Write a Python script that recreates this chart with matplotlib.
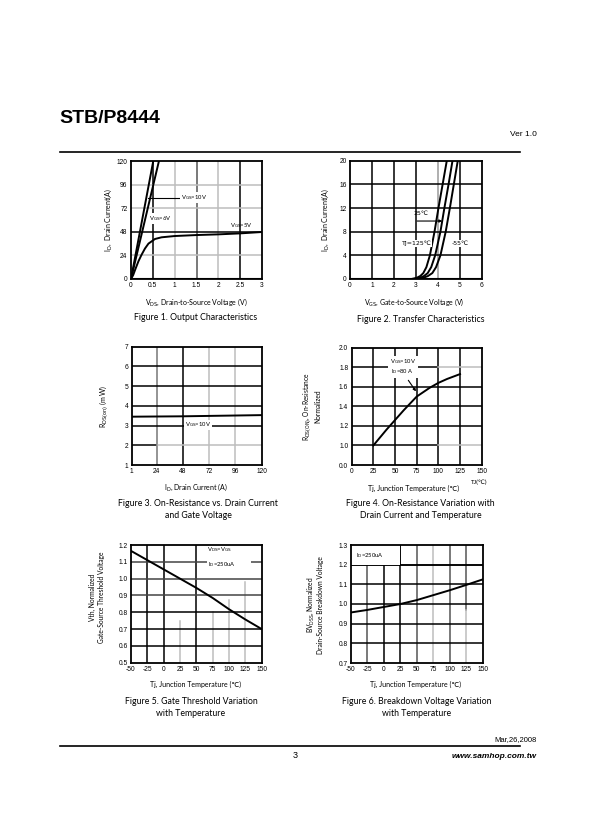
import numpy as np
import matplotlib
matplotlib.use("Agg")
from matplotlib import pyplot as plt
from matplotlib.patches import Rectangle

W, H = 592, 840

# ---- Figure 1: output characteristics ----
vds_10v = [0.0, 0.51]
id_10v = [0, 120]
vds_6v = [0.0, 0.64]
id_6v = [0, 120]
vds_5v = [0, 0.05, 0.1, 0.17, 0.24, 0.32, 0.4, 0.55, 0.7, 1.0, 1.5, 2.0, 2.5, 3.0]
id_5v = [0, 4, 10, 18, 24.5, 31, 36, 40.7, 42.4, 43.7, 44.7, 45.4, 46.4, 47.8]
f1_xticks = [0, 0.5, 1, 1.5, 2, 2.5, 3]
f1_xlabels = ["0", "0.5", "1", "1.5", "2", "2.5", "3"]
f1_yticks = [0, 24, 48, 72, 96, 120]

# ---- Figure 2: transfer characteristics ----
id_tr = [0, 0, 0.2, 0.5, 1, 2, 4, 8, 12, 16, 20]
vgs_125 = [0, 2.8, 3.04, 3.2, 3.34, 3.48, 3.64, 3.85, 4.03, 4.22, 4.41]
vgs_25 = [0, 2.95, 3.19, 3.37, 3.54, 3.7, 3.88, 4.12, 4.3, 4.49, 4.67]
vgs_m55 = [0, 3.1, 3.34, 3.55, 3.75, 3.92, 4.12, 4.36, 4.55, 4.73, 4.91]
f2_xticks = [0, 1, 2, 3, 4, 5, 6]
f2_yticks = [0, 4, 8, 12, 16, 20]

# ---- Figure 3: on-resistance vs drain current ----
id_rds = [1, 24, 48, 72, 96, 120]
rds_10v = [3.45, 3.46, 3.47, 3.49, 3.51, 3.53]
f3_xticks = [1, 24, 48, 72, 96, 120]
f3_yticks = [1, 2, 3, 4, 5, 6, 7]

# ---- Figure 4: on-resistance vs temperature ----
tj_rn = [25, 40, 50, 60, 75, 90, 100, 110, 125]
rds_norm = [1.0, 1.16, 1.26, 1.36, 1.50, 1.59, 1.64, 1.68, 1.73]
f4_xticks = [0, 25, 50, 75, 100, 125, 150]
f4_yticks = [0.8, 1.0, 1.2, 1.4, 1.6, 1.8, 2.0]
f4_ylabels = ["0.0", "1.0", "1.2", "1.4", "1.6", "1.8", "2.0"]

# ---- Figure 5: gate threshold vs temperature ----
tj_vth = [-50, 0, 25, 50, 75, 100, 125, 150]
vth_norm = [1.165, 1.055, 1.0, 0.945, 0.885, 0.818, 0.757, 0.70]
f5_xticks = [-50, -25, 0, 25, 50, 75, 100, 125, 150]
f5_yticks = [0.5, 0.6, 0.7, 0.8, 0.9, 1.0, 1.1, 1.2]

# ---- Figure 6: breakdown voltage vs temperature ----
tj_bv = [-50, -25, 0, 25, 50, 75, 100, 125, 150]
bv_norm = [0.957, 0.970, 0.985, 1.0, 1.02, 1.045, 1.07, 1.097, 1.125]
f6_yticks = [0.7, 0.8, 0.9, 1.0, 1.1, 1.2, 1.3]

LAB = ["Lato", "DejaVu Sans"]
TICK = ["Liberation Sans", "DejaVu Sans"]
GRAY = "#bdbdbd"
DARK = "#555555"

plt.rcParams["font.family"] = LAB
plt.rcParams["mathtext.fontset"] = "dejavusans"

fig = plt.figure(figsize=(W / 100, H / 100), dpi=100)


def px_axes(l, r, t, b):
    return fig.add_axes([l / W, 1 - b / H, (r - l) / W, (b - t) / H])


def ftext(x, y, s, **kw):
    fig.text(x / W, 1 - y / H, s, **kw)


def style(ax, xlim, ylim, xticks, yticks, xlabels=None, ylabels=None):
    ax.set_xlim(*xlim)
    ax.set_ylim(*ylim)
    ax.set_xticks(xticks)
    ax.set_yticks(yticks)
    ax.set_xticklabels(xlabels if xlabels else [str(t) for t in xticks], family=TICK)
    ax.set_yticklabels(ylabels if ylabels else [str(t) for t in yticks], family=TICK)
    ax.tick_params(length=0, labelsize=4.8, pad=2.5)
    for s in ax.spines.values():
        s.set_linewidth(1.3)


def vgrid(ax, x, color="k", lo=None, hi=None):
    y0, y1 = ax.get_ylim()
    ax.plot([x, x], [lo if lo is not None else y0, hi if hi is not None else y1],
            color=color, lw=1.1, zorder=1)


def hgrid(ax, y, color="k", lo=None, hi=None):
    x0, x1 = ax.get_xlim()
    ax.plot([lo if lo is not None else x0, hi if hi is not None else x1], [y, y],
            color=color, lw=1.1, zorder=1)


box = dict(facecolor="white", edgecolor="none", pad=0.6)

# ---------------- Figure 1 ----------------
ax1 = px_axes(131, 262, 161, 279)
style(ax1, (0, 3), (0, 120), f1_xticks, f1_yticks, xlabels=f1_xlabels)
for x, c in zip([0.5, 1, 1.5, 2, 2.5], ["k", GRAY, DARK, GRAY, "k"]):
    vgrid(ax1, x, c)
for y, c in zip([24, 48, 72, 96], [GRAY, "k", GRAY, GRAY]):
    hgrid(ax1, y, c)
ax1.plot(vds_10v, id_10v, color="k", lw=1.4, zorder=3)
ax1.plot(vds_6v, id_6v, color="k", lw=1.4, zorder=3)
ax1.plot(vds_5v, id_5v, color="k", lw=1.4, zorder=3)
ax1.plot([0, 3], [0.5, 0.5], color="k", lw=1.5, zorder=3)
ax1.plot([0.4, 1.12], [82.7, 82.7], color="k", lw=0.8, zorder=3)
ax1.text(1.15, 82.7, r"V$_{\rm GS}$=10V", fontsize=4.2, va="center", zorder=4, bbox=box)
ax1.text(0.42, 61.3, r"V$_{\rm GS}$=6V", fontsize=4.2, va="center", zorder=4, bbox=box)
ax1.text(2.27, 54.6, r"V$_{\rm GS}$=5V", fontsize=4.2, va="center", zorder=4)
ftext(196, 302, r"V$_{\rm DS}$, Drain-to-Source Voltage (V)", fontsize=5, ha="center", va="center")
ftext(108, 220, r"I$_{\rm D}$,  Drain Current(A)", fontsize=5, ha="center", va="center", rotation=90)
ftext(196, 318, "Figure 1. Output Characteristics", fontsize=6.3, ha="center", va="center")

# ---------------- Figure 2 ----------------
ax2 = px_axes(350, 481.7, 160.7, 279)
style(ax2, (0, 6), (0, 20), f2_xticks, f2_yticks)
for x, c in zip([1, 2, 3, 4, 5], ["k", "k", "k", "#9a9a9a", "k"]):
    vgrid(ax2, x, c)
for y in [4, 8, 12, 16]:
    hgrid(ax2, y)
for v in (vgs_125, vgs_25, vgs_m55):
    ax2.plot(v, id_tr, color="k", lw=1.4, zorder=3)
ax2.plot([0, 6], [0.08, 0.08], color="k", lw=1.5, zorder=3)
ax2.annotate("", xy=(4.33, 9.8), xytext=(2.93, 9.8),
             arrowprops=dict(arrowstyle="-|>", color="k", lw=0.8, mutation_scale=4), zorder=4)
ax2.text(2.9, 10.7, "25℃", fontsize=4.5, va="bottom", family=["DejaVu Sans"], zorder=4)
ax2.text(3.72, 6.0, "TJ=125℃", fontsize=4.5, ha="right", va="center",
         family=["DejaVu Sans"], zorder=4, bbox=box)
ax2.text(4.62, 6.0, "-55℃", fontsize=4.5, ha="left", va="center",
         family=["DejaVu Sans"], zorder=4, bbox=box)
ftext(414, 302, r"V$_{\rm GS}$, Gate-to-Source Voltage (V)", fontsize=5, ha="center", va="center")
ftext(325, 220, r"I$_{\rm D}$,  Drain Current(A)", fontsize=5, ha="center", va="center", rotation=90)
ftext(421, 319, "Figure 2. Transfer Characteristics", fontsize=6.3, ha="center", va="center")

# ---------------- Figure 3 ----------------
ax3 = px_axes(131.7, 261.7, 346.7, 465)
style(ax3, (1, 120), (1, 7), f3_xticks, f3_yticks)
for x, c in zip([24, 48, 72, 96], ["#777777", "k", GRAY, GRAY]):
    vgrid(ax3, x, c)
hgrid(ax3, 2, "k", 1, 24)
hgrid(ax3, 2, GRAY, 24, 120)
for y in [3, 4, 5, 6]:
    hgrid(ax3, y)
ax3.plot(id_rds, rds_10v, color="k", lw=1.4, zorder=3)
ax3.text(62, 3.03, r"V$_{\rm GS}$=10V", fontsize=4.2, ha="center", va="center", zorder=4, bbox=box)
ftext(196, 487, r"I$_{\rm D}$, Drain Current (A)", fontsize=5, ha="center", va="center")
ftext(104, 406, r"R$_{\rm DS(on)}$ (m W)", fontsize=5, ha="center", va="center", rotation=90)
ftext(198, 503, "Figure 3. On-Resistance vs. Drain Current", fontsize=6.3, ha="center", va="center")
ftext(198, 515, "and Gate Voltage", fontsize=6.3, ha="center", va="center")

# ---------------- Figure 4 ----------------
ax4 = px_axes(351.7, 481.7, 347.7, 465)
style(ax4, (0, 150), (0.8, 2.0), f4_xticks, f4_yticks, ylabels=f4_ylabels)
for x in [25, 50, 75, 100, 125]:
    vgrid(ax4, x)
for y in [1.2, 1.4, 1.6]:
    hgrid(ax4, y)
for y in [1.0, 1.8]:
    hgrid(ax4, y, "k", 0, 100)
    hgrid(ax4, y, GRAY, 100, 150)
ax4.plot(tj_rn, rds_norm, color="k", lw=1.4, zorder=3)
ax4.text(59, 1.805, "V$_{\\rm GS}$=10V\nI$_{\\rm D}$=80 A", fontsize=4.2, ha="center",
         va="center", linespacing=1.1, zorder=4, bbox=dict(facecolor="white", edgecolor="none", pad=1.2))
ax4.annotate("", xy=(76, 1.53), xytext=(63.5, 1.69),
             arrowprops=dict(arrowstyle="-|>", color="k", lw=0.8, mutation_scale=4), zorder=4)
ftext(414, 488, "Tj, Junction Temperature (℃)", fontsize=5, ha="center", va="center")
ftext(479, 482, "TJ(℃)", fontsize=4.5, ha="center", va="center")
ftext(311, 406, "R$_{\\rm DS(ON)}$, On-Resistance\nNormalized", fontsize=4.8, ha="center",
      va="center", rotation=90, multialignment="center")
ftext(420, 503, "Figure 4. On-Resistance Variation with", fontsize=6.3, ha="center", va="center")
ftext(421, 515, "Drain Current and Temperature", fontsize=6.3, ha="center", va="center")

# ---------------- Figure 5 ----------------
ax5 = px_axes(131, 261.7, 545, 662.7)
style(ax5, (-50, 150), (0.5, 1.2), f5_xticks, f5_yticks)
for x in [-25, 0, 50]:
    vgrid(ax5, x)
for x, top in zip([25, 75, 100, 125], [0.75, 0.80, 0.87, 0.98]):
    vgrid(ax5, x, GRAY, 0.5, top)
for y, c in zip([0.6, 0.7, 0.8, 0.9, 1.0, 1.1], ["k", "k", "k", "#444444", "#444444", "#444444"]):
    hgrid(ax5, y, c)
ax5.add_patch(Rectangle((67, 1.04), 67, 0.16, facecolor="white", edgecolor="none", zorder=2))
ax5.plot(tj_vth, vth_norm, color="k", lw=1.4, zorder=3)
ax5.text(85, 1.17, "V$_{\\rm DS}$=V$_{\\rm GS}$", fontsize=4.2, ha="center", va="center", zorder=4)
ax5.text(89, 1.085, "I$_{\\rm D}$=250uA", fontsize=4.2, ha="center", va="center", zorder=4)
ftext(196, 684, "Tj, Junction Temperature (℃)", fontsize=5, ha="center", va="center")
ftext(97, 597, "Vth, Normalized\nGate-Source Threshold Voltage", fontsize=4.8, ha="center",
      va="center", rotation=90, multialignment="center")
ftext(191, 701, "Figure 5. Gate Threshold Variation", fontsize=6.3, ha="center", va="center")
ftext(191, 713, "with Temperature", fontsize=6.3, ha="center", va="center")

# ---------------- Figure 6 ----------------
ax6 = px_axes(351, 482.7, 545, 663)
style(ax6, (-50, 150), (0.7, 1.3), f5_xticks, f6_yticks)
for x, c in zip([-25, 0, 25, 50, 75, 100], [DARK, "k", "k", DARK, GRAY, DARK]):
    vgrid(ax6, x, c)
vgrid(ax6, 125, DARK, 0.97, 1.3)
vgrid(ax6, 125, GRAY, 0.7, 0.97)
for y in [0.8, 0.9, 1.0, 1.1, 1.2]:
    hgrid(ax6, y)
ax6.add_patch(Rectangle((-50, 1.2), 75, 0.1, facecolor="white", edgecolor="none", zorder=2))
vgrid(ax6, 25, "k", 1.2, 1.3)
hgrid(ax6, 1.2)
ax6.plot(tj_bv, bv_norm, color="k", lw=1.4, zorder=3)
ax6.text(-22, 1.245, "I$_{\\rm D}$=250uA", fontsize=4.2, ha="center", va="center", zorder=4)
ftext(416, 684, "Tj, Junction Temperature (℃)", fontsize=5, ha="center", va="center")
ftext(315, 605, "BV$_{\\rm DSS}$, Normalized\nDrain-Source Breakdown Voltage", fontsize=4.8,
      ha="center", va="center", rotation=90, multialignment="center")
ftext(417, 701, "Figure 6. Breakdown Voltage Variation", fontsize=6.3, ha="center", va="center")
ftext(417, 713, "with Temperature", fontsize=6.3, ha="center", va="center")

# ---------------- page header / footer ----------------
ftext(59, 123, "STB/P8444", fontsize=14, fontweight="bold", family=["Liberation Sans"],
      ha="left", va="baseline")
ftext(537, 136, "Ver 1.0", fontsize=6, family=["Liberation Sans"], ha="right", va="baseline")
fig.add_artist(plt.Line2D([60 / W, 520 / W], [1 - 152.3 / H, 1 - 152.3 / H], color="k", lw=1.2))
ftext(537, 741, "Mar,26,2008", fontsize=5.5, family=["Liberation Sans"], ha="right", va="baseline")
fig.add_artist(plt.Line2D([60 / W, 520 / W], [1 - 745.7 / H, 1 - 745.7 / H], color="k", lw=1.2))
ftext(295, 757.5, "3", fontsize=6.5, family=["Liberation Sans"], ha="center", va="baseline")
ftext(537, 757.5, "www.samhop.com.tw", fontsize=6, family=["Liberation Sans"],
      fontweight="bold", fontstyle="italic", ha="right", va="baseline")

fig.savefig("out.png", dpi=100, facecolor="white")
